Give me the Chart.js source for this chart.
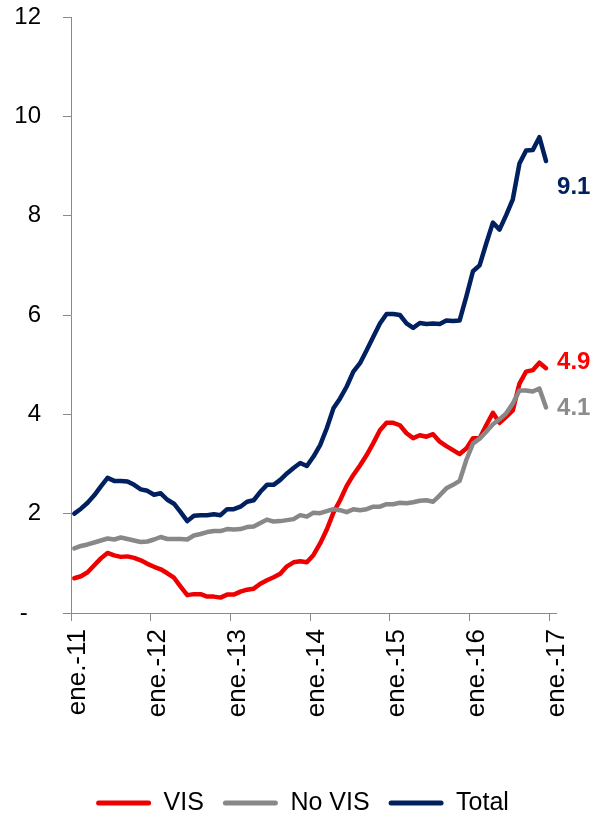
<!DOCTYPE html>
<html>
<head>
<meta charset="utf-8">
<script src="https://cdn.jsdelivr.net/npm/chart.js@4.4.1/dist/chart.umd.min.js"></script>
<style>
html,body{margin:0;padding:0;background:#fff;overflow:hidden}
#wrap{width:595px;height:818px}
</style>
</head>
<body>
<div id="wrap"><canvas id="c" width="595" height="818"></canvas></div>
<script>
// ---- data (monthly, ene.-11 .. dic.-16) ----
const xTickLabels = ['ene.-11','ene.-12','ene.-13','ene.-14','ene.-15','ene.-16','ene.-17'];
const yTickValues = [0, 2, 4, 6, 8, 10, 12];
const seriesNames = ['VIS', 'No VIS', 'Total'];

const vis = [
  0.70,0.74,0.82,0.96,1.10,1.21,1.16,1.13,1.14,1.11,1.06,0.99,
  0.93,0.88,0.80,0.71,0.53,0.36,0.38,0.38,0.33,0.33,0.31,0.37,
  0.37,0.43,0.47,0.49,0.59,0.66,0.72,0.79,0.94,1.02,1.04,1.02,
  1.17,1.40,1.68,2.02,2.27,2.56,2.78,2.97,3.18,3.42,3.68,3.83,
  3.83,3.78,3.62,3.52,3.58,3.55,3.60,3.45,3.36,3.28,3.20,3.31,
  3.52,3.52,3.78,4.03,3.83,3.95,4.08,4.62,4.86,4.89,5.04,4.93
];
const noVis = [
  1.30,1.35,1.38,1.42,1.46,1.50,1.48,1.52,1.49,1.46,1.43,1.44,
  1.48,1.53,1.49,1.49,1.49,1.48,1.56,1.59,1.63,1.65,1.65,1.69,
  1.68,1.69,1.73,1.74,1.81,1.88,1.84,1.85,1.87,1.89,1.97,1.94,
  2.02,2.01,2.05,2.09,2.07,2.03,2.09,2.07,2.09,2.14,2.14,2.19,
  2.19,2.22,2.21,2.23,2.26,2.27,2.24,2.37,2.51,2.58,2.66,3.08,
  3.41,3.51,3.65,3.80,3.90,4.02,4.22,4.48,4.48,4.46,4.52,4.14
];
const total = [
  2.00,2.10,2.22,2.37,2.55,2.72,2.66,2.66,2.65,2.58,2.49,2.46,
  2.38,2.41,2.28,2.20,2.03,1.85,1.96,1.97,1.97,1.99,1.97,2.09,
  2.09,2.14,2.24,2.27,2.44,2.58,2.58,2.68,2.81,2.92,3.02,2.96,
  3.15,3.38,3.72,4.12,4.32,4.56,4.86,5.03,5.29,5.56,5.83,6.02,
  6.02,6.00,5.83,5.74,5.84,5.82,5.83,5.82,5.89,5.88,5.89,6.37,
  6.88,7.00,7.44,7.86,7.72,8.01,8.33,9.05,9.31,9.32,9.58,9.10
];

const FONT = '"Liberation Sans", Arial, Helvetica, sans-serif';
Chart.defaults.font.family = FONT;
Chart.defaults.color = '#000';

const MONTHS_PER_TICK = 12;
const toPoints = arr => arr.map((v, i) => ({ x: i + 0.5, y: v }));

const endLabels = {
  id: 'endLabels',
  afterDatasetsDraw(chart, args, opts) {
    const ctx = chart.ctx;
    chart.data.datasets.forEach((ds, i) => {
      const meta = chart.getDatasetMeta(i);
      const pt = meta.data[meta.data.length - 1];
      const v = ds.data[ds.data.length - 1].y;
      ctx.save();
      ctx.font = 'bold 24px ' + FONT;
      ctx.fillStyle = opts.colors[i];
      ctx.textAlign = 'left';
      ctx.textBaseline = 'middle';
      ctx.fillText(v.toFixed(1), pt.x + opts.dx, pt.y + opts.dy[i]);
      ctx.restore();
    });
  }
};

const axisColor = '#898989';

new Chart(document.getElementById('c'), {
  type: 'line',
  data: {
    datasets: [
      { label: seriesNames[0], data: toPoints(vis),   borderColor: '#EE0000', backgroundColor: '#EE0000', order: 3 },
      { label: seriesNames[1], data: toPoints(noVis), borderColor: '#888888', backgroundColor: '#888888', order: 2 },
      { label: seriesNames[2], data: toPoints(total), borderColor: '#002060', backgroundColor: '#002060', order: 1 }
    ]
  },
  options: {
    responsive: false,
    animation: false,
    devicePixelRatio: 1,
    layout: { padding: { top: 17, right: 0, left: 10, bottom: -7.5 } },
    elements: {
      point: { radius: 0, hoverRadius: 0 },
      line: { borderWidth: 4.5, tension: 0, borderCapStyle: 'round', borderJoinStyle: 'round', fill: false }
    },
    plugins: {
      tooltip: { enabled: false },
      legend: {
        position: 'bottom',
        labels: {
          boxWidth: 55,
          boxHeight: 5,
          padding: 19,
          color: '#000',
          font: { size: 25, family: FONT },
          useBorderRadius: true,
          borderRadius: 2.5,
          generateLabels: chart => chart.data.datasets.map((ds, i) => ({
            text: ds.label, fillStyle: ds.borderColor, strokeStyle: ds.borderColor,
            lineWidth: 0, hidden: false, datasetIndex: i, borderRadius: 2.5
          }))
        }
      },
      endLabels: { dx: 11, dy: [-5.6, 1, 26.5], colors: ['#FF0000', '#8C8C8C', '#002060'] }
    },
    scales: {
      x: {
        type: 'linear',
        min: 0,
        max: 73,
        afterBuildTicks: s => { s.ticks = xTickLabels.map((_, k) => ({ value: k * MONTHS_PER_TICK })); },
        afterFit: s => { s.height = 158.5; },
        grid: { display: true, drawOnChartArea: false, drawTicks: true, tickLength: 8, color: axisColor, lineWidth: 1 },
        border: { display: true, color: axisColor, width: 1 },
        ticks: {
          minRotation: 90, maxRotation: 90, autoSkip: false, padding: 8, labelOffset: 7,
          color: '#000', font: { size: 26, family: FONT },
          callback: v => xTickLabels[Math.round(v / MONTHS_PER_TICK)]
        }
      },
      y: {
        min: 0,
        max: 12,
        afterBuildTicks: s => { s.ticks = yTickValues.map(v => ({ value: v })); },
        afterFit: s => { s.width = 61; s.paddingTop = 0; s.paddingBottom = 0; },
        grid: { display: true, drawOnChartArea: false, drawTicks: true, tickLength: 8, color: axisColor, lineWidth: 1 },
        border: { display: true, color: axisColor, width: 1 },
        ticks: {
          padding: 22, color: '#000', font: { size: 24, family: FONT },
          callback: v => (v === 0 ? '-  ' : String(v))
        }
      },
      // empty right-hand spacer that leaves room for the end labels
      yRight: {
        position: 'right',
        display: true,
        grid: { display: false, drawTicks: false },
        border: { display: false },
        ticks: { display: false },
        afterFit: s => { s.width = 39; s.paddingTop = 0; s.paddingBottom = 0; }
      }
    }
  },
  plugins: [endLabels]
});
</script>
</body>
</html>
